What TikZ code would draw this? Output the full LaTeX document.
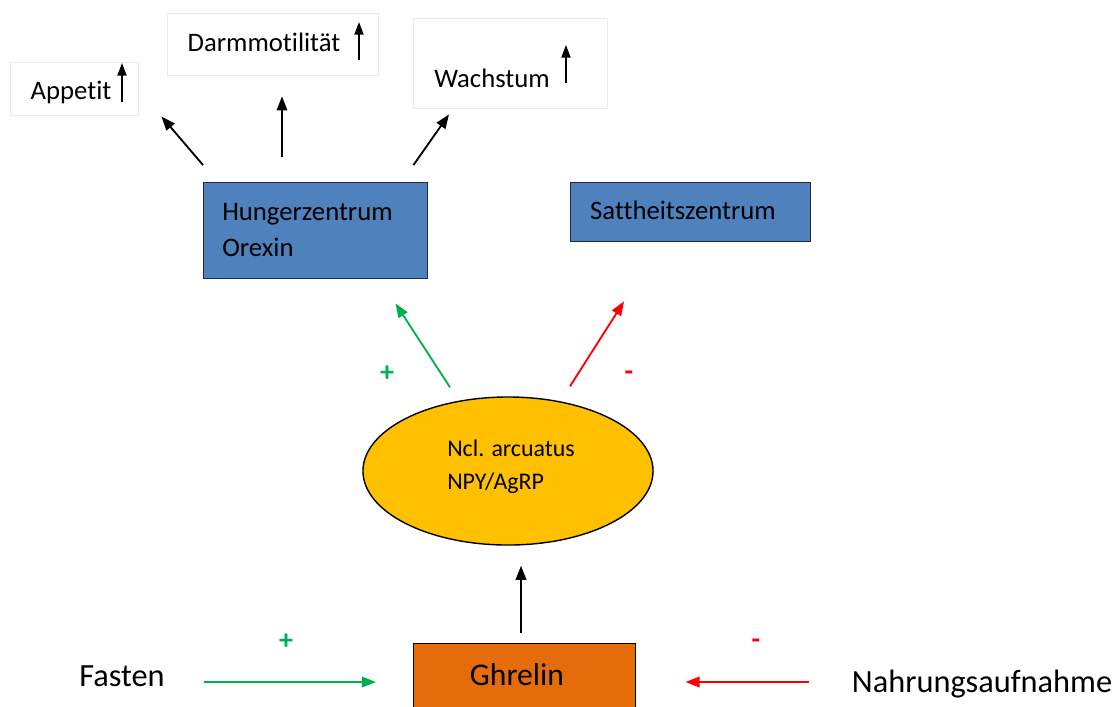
\documentclass[tikz,border=0pt]{standalone}
\usepackage{fontspec}
\setmainfont{Carlito}[Ligatures={NoCommon}]
\usepackage{tikz}
\usetikzlibrary{positioning}
\usetikzlibrary{shapes.geometric}
\usetikzlibrary{arrows.meta}
\usetikzlibrary{calc}
\definecolor{centreblue}{HTML}{4F81BD}
\definecolor{centreline}{HTML}{1F2A44}
\definecolor{arcyellow}{HTML}{FFC000}
\definecolor{ghrelinorange}{HTML}{E46C0A}
\definecolor{effectline}{HTML}{EEECE1}
\definecolor{posgreen}{HTML}{00B050}
\definecolor{negred}{HTML}{FF0000}

\begin{document}
\begin{tikzpicture}[x=0.025cm, y=-0.025cm,
    lbl/.style={inner sep=0, font=\fontsize{19}{23}\selectfont},
    biglbl/.style={inner sep=0, font=\fontsize{23}{27}\selectfont},
    effect/.style={draw=effectline, line width=1pt, fill=white, anchor=north west, inner sep=0},
    centre/.style={draw=centreline, line width=1pt, fill=centreblue, anchor=north west, inner sep=0},
    arr/.style={-{Triangle[length=10pt, width=7.5pt]}, line width=1.3pt},
    uparr/.style={-{Triangle[length=9pt, width=6.5pt]}, line width=1.1pt},
    sign/.style={inner sep=0, font=\bfseries\fontsize{20}{24}\selectfont}]
  \clip (0,0) rectangle (1115,706);
  % effects
  \node[effect, minimum width=3.2cm, minimum height=1.325cm] (appbox) at (10,62) {};
  \node[effect, minimum width=5.275cm, minimum height=1.55cm] (darmbox) at (167,13) {};
  \node[effect, minimum width=4.85cm, minimum height=2.25cm] (wachsbox) at (413,18) {};
  \node[lbl] (appetit) at (71,92) {Appetit};
  \node[lbl] (darm) at (264,42) {Darmmotilität};
  \node[lbl] (wachstum) at (492,78) {Wachstum};
  \draw[uparr] ($(appbox.north west)+(112,40)$) -- ($(appbox.north west)+(112,1)$);
  \draw[uparr] ($(darmbox.north west)+(192,47)$) -- ($(darmbox.north west)+(192,9)$);
  \draw[uparr] ($(wachsbox.north west)+(153,65)$) -- ($(wachsbox.north west)+(153,27)$);
  % centres
  \node[centre, minimum width=5.6cm, minimum height=2.4cm] (hunger) at (203,182) {};
  \node[lbl, anchor=west, align=left, font=\fontsize{19}{25.6}\selectfont] (hungertext) at (222,230) {Hungerzentrum\\Orexin};
  \node[centre, minimum width=6cm, minimum height=1.475cm] (satt) at (570,182) {};
  \node[lbl] (satttext) at (683,210) {Sattheitszentrum};
  \draw[arr] ($(hunger.north west)+(0,-17)$) -- ($(appbox.south east)+(22,0)$);
  \draw[arr] ($(hunger.north west)+(79,-25)$) -- ($(darmbox.south west)+(115,20)$);
  \draw[arr] ($(hunger.north east)+(-15,-17)$) -- ($(wachsbox.south west)+(36,5)$);
  % nucleus
  \node[ellipse, draw, line width=1pt, fill=arcyellow, minimum width=7.25cm, minimum height=3.7cm, inner sep=0] (ncl) at (508,471) {};
  \node[lbl, anchor=west, align=left, font=\fontsize{17}{23.5}\selectfont] (ncltext) at (447,467) {Ncl. arcuatus\\NPY/AgRP};
  \draw[arr, posgreen] ($(ncl.north)+(-58,-9)$) -- ($(hunger.south east)+(-33,24)$);
  \draw[arr, negred] ($(ncl.north)+(62,-10)$) -- ($(satt.south west)+(54,59)$);
  \node[sign, text=posgreen] (plusup) at (387,374) {+};
  \node[sign, text=negred] (minusup) at (629,376) {-};
  % ghrelin
  \node[draw, line width=1pt, fill=ghrelinorange, anchor=north west, minimum width=5.55cm, minimum height=2.5cm, inner sep=0] (ghrelin) at (413,643) {};
  \node[biglbl, font=\fontsize{22.5}{27}\selectfont] (ghrelintext) at (517,675) {Ghrelin};
  \draw[arr] ($(ghrelin.north west)+(108,-10)$) -- ($(ncl.south)+(13,20)$);
  \node[biglbl] (fasten) at (122,676) {Fasten};
  \node[biglbl] (nahrung) at (982,684) {Nahrungsaufnahme};
  \draw[arr, posgreen] ($(fasten.east)+(39,6)$) -- ($(ghrelin.north west)+(-37,39)$);
  \draw[arr, negred] ($(nahrung.west)+(-43,-2)$) -- ($(ghrelin.north east)+(49,39)$);
  \node[sign, text=posgreen] (plusdown) at (286,642) {+};
  \node[sign, text=negred] (minusdown) at (756,644) {-};
\end{tikzpicture}
\end{document}
